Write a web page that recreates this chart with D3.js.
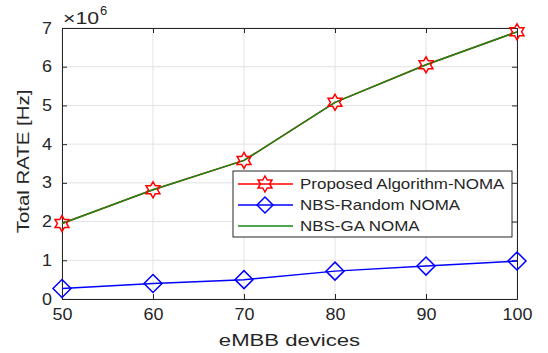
<!DOCTYPE html>
<html>
<head>
<meta charset="utf-8">
<script src="https://cdn.jsdelivr.net/npm/d3@7"></script>
<style>
  body { margin: 0; background: #fff; }
  text { font-family: "Liberation Sans", Arial, sans-serif; fill: #262626; }
</style>
</head>
<body>
<svg id="chart" width="548" height="353"></svg>
<script>
// chart data
const devices = [50, 60, 70, 80, 90, 100];
const proposed = [1.95, 2.82, 3.58, 5.08, 6.05, 6.9];
const randomNoma = [0.27, 0.4, 0.5, 0.72, 0.85, 0.98];
const gaNoma = [1.95, 2.82, 3.58, 5.08, 6.05, 6.9];
const yTicks = [0, 1, 2, 3, 4, 5, 6, 7];
const seriesNames = ["Proposed Algorithm-NOMA", "NBS-Random NOMA", "NBS-GA NOMA"];

const svg = d3.select("#chart");
const plotL = 62, plotR = 517, plotT = 28, plotB = 299;

const x = d3.scaleLinear().domain([50, 100]).range([plotL, plotR]);
const y = d3.scaleLinear().domain([0, 7]).range([plotB, plotT]);

// the reference text is a bit wider than Liberation Sans, stretch it
function widen(sel, k) {
  sel.each(function () {
    const w = this.getComputedTextLength();
    d3.select(this).attr("textLength", w * k).attr("lengthAdjust", "spacingAndGlyphs");
  });
}

// grid
svg.append("g").selectAll("line").data(devices).join("line")
  .attr("x1", d => x(d)).attr("x2", d => x(d))
  .attr("y1", plotT).attr("y2", plotB)
  .attr("stroke", "#e3e3e3").attr("stroke-width", 1);
svg.append("g").selectAll("line").data(yTicks).join("line")
  .attr("x1", plotL).attr("x2", plotR)
  .attr("y1", d => y(d)).attr("y2", d => y(d))
  .attr("stroke", "#e3e3e3").attr("stroke-width", 1);

// axes (ticks inward, MATLAB style)
const axisColor = "#262626";
svg.append("g").attr("transform", `translate(0,${plotB})`)
  .call(d3.axisBottom(x).tickValues(devices).tickFormat(d3.format("d")).tickSize(-5).tickPadding(10));
svg.append("g").attr("transform", `translate(${plotL},0)`)
  .call(d3.axisLeft(y).tickValues(yTicks).tickFormat(d3.format("d")).tickSize(-5).tickPadding(10));
svg.append("g").attr("transform", `translate(0,${plotT})`)
  .call(d3.axisTop(x).tickValues(devices).tickSize(-5).tickFormat(""));
svg.append("g").attr("transform", `translate(${plotR},0)`)
  .call(d3.axisRight(y).tickValues(yTicks).tickSize(-5).tickFormat(""));
svg.selectAll(".domain").attr("stroke", axisColor);
svg.selectAll(".tick line").attr("stroke", axisColor);
svg.selectAll(".tick text").style("font-size", "16px")
  .style("font-family", "Liberation Sans, Arial, sans-serif").attr("fill", "#262626")
  .call(widen, 1.12);

// exponent label
const expo = svg.append("text").attr("x", 63).attr("y", 24).style("font-size", "17px")
  .text("\u00d710").call(widen, 1.25);
const expoW = +expo.attr("textLength");
svg.append("text").attr("x", 63 + expoW + 1).attr("y", 15).style("font-size", "13px").text("6");

// axis titles
svg.append("text").attr("x", (plotL + plotR) / 2).attr("y", 346)
  .attr("text-anchor", "middle").style("font-size", "17px").text("eMBB devices")
  .call(widen, 1.3);
svg.append("text").attr("transform", `translate(29,${(plotT + plotB) / 2 - 2}) rotate(-90)`)
  .attr("text-anchor", "middle").style("font-size", "17px").text("Total RATE [Hz]")
  .call(widen, 1.2);

const line = d3.line().x((d, i) => x(devices[i])).y(d => y(d));

// six-pointed star outline
function star(r) {
  const pts = [];
  for (let k = 0; k < 12; k++) {
    const rad = k % 2 === 0 ? r : r * 0.577;
    const t = k * Math.PI / 6;
    pts.push([rad * Math.sin(t), -rad * Math.cos(t)]);
  }
  return "M" + pts.join("L") + "Z";
}
const diamond = r => `M0,${-r}L${r},0L0,${r}L${-r},0Z`;

// blue series
svg.append("path").datum(randomNoma).attr("d", line)
  .attr("fill", "none").attr("stroke", "#0000ff").attr("stroke-width", 1.5);
svg.append("g").selectAll("path").data(randomNoma).join("path")
  .attr("transform", (d, i) => `translate(${x(devices[i])},${y(d)})`)
  .attr("d", diamond(9)).attr("fill", "none").attr("stroke", "#0000ff").attr("stroke-width", 1.5);

// red series line, then green on top, then red markers
svg.append("path").datum(proposed).attr("d", line)
  .attr("fill", "none").attr("stroke", "#ff0000").attr("stroke-width", 1.5);
svg.append("path").datum(gaNoma).attr("d", line)
  .attr("fill", "none").attr("stroke", "#138a13").attr("stroke-width", 1.5);
svg.append("g").selectAll("path").data(proposed).join("path")
  .attr("transform", (d, i) => `translate(${x(devices[i])},${y(d)})`)
  .attr("d", star(8)).attr("fill", "none").attr("stroke", "#ff0000").attr("stroke-width", 1.5);

// legend
const lg = svg.append("g").attr("transform", "translate(233,171)");
lg.append("rect").attr("width", 279).attr("height", 66)
  .attr("fill", "#fff").attr("stroke", "#262626").attr("stroke-width", 1);
const colors = ["#ff0000", "#0000ff", "#138a13"];
const markers = [star(8), diamond(8), null];
const rowY = [13, 34, 55];
seriesNames.forEach((name, i) => {
  const yy = rowY[i];
  lg.append("line").attr("x1", 5).attr("x2", 60).attr("y1", yy).attr("y2", yy)
    .attr("stroke", colors[i]).attr("stroke-width", 1.5);
  if (markers[i]) {
    lg.append("path").attr("transform", `translate(32,${yy})`).attr("d", markers[i])
      .attr("fill", "none").attr("stroke", colors[i]).attr("stroke-width", 1.5);
  }
  lg.append("text").attr("x", 67).attr("y", yy + 5).style("font-size", "15px").text(name)
    .call(widen, 1.13);
});
</script>
</body>
</html>
